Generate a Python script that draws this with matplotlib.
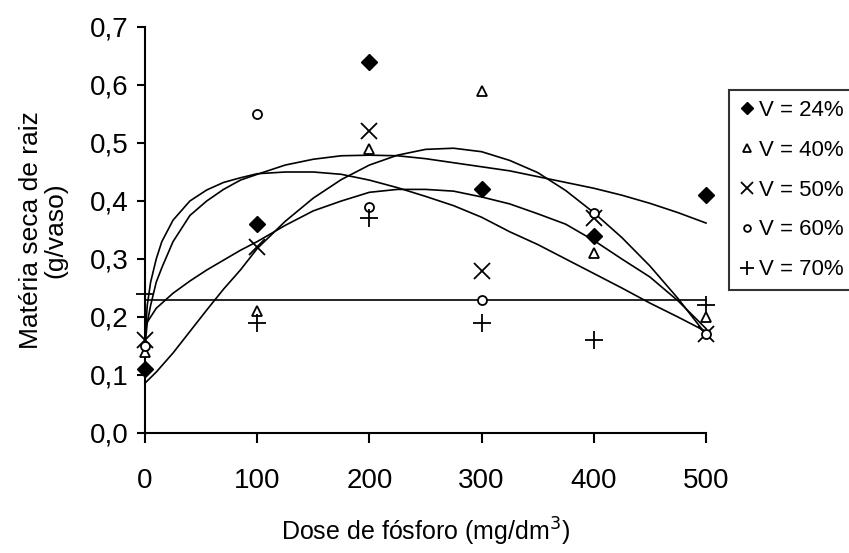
import matplotlib
matplotlib.use("Agg")
import matplotlib.pyplot as plt

plt.rcParams['font.family'] = ['Liberation Sans', 'DejaVu Sans']

# observed means
dose = [0, 100, 200, 300, 400, 500]
v24 = [0.11, 0.36, 0.64, 0.42, 0.34, 0.41]
v40 = [0.14, 0.21, 0.49, 0.59, 0.31, 0.20]
v50 = [0.16, 0.32, 0.52, 0.28, 0.37, 0.17]
v60 = [0.15, 0.55, 0.39, 0.23, 0.38, 0.17]
v70 = [0.24, 0.19, 0.37, 0.19, 0.16, 0.22]

# fitted curves
fit_x_a = [0, 2, 5, 10, 15, 25, 40, 55, 70, 85, 100, 125, 150, 175, 200,
           225, 250, 275, 300, 325, 350, 375, 400, 425, 450, 475, 500]
fit_v24 = [0.15, 0.19, 0.22, 0.26, 0.285, 0.33, 0.375, 0.40, 0.42, 0.436,
           0.446, 0.462, 0.472, 0.478, 0.479, 0.478, 0.473, 0.466, 0.459,
           0.452, 0.442, 0.432, 0.422, 0.41, 0.396, 0.38, 0.362]
fit_v60 = [0.16, 0.22, 0.26, 0.30, 0.33, 0.367, 0.40, 0.419, 0.432, 0.44,
           0.447, 0.45, 0.45, 0.446, 0.436, 0.423, 0.408, 0.392, 0.372,
           0.347, 0.325, 0.30, 0.275, 0.25, 0.224, 0.20, 0.175]

fit_x_b = [0, 10, 25, 40, 55, 70, 85, 100, 125, 150, 175, 200, 225, 250,
           275, 300, 325, 350, 375, 400, 425, 450, 475, 500]
fit_v40 = [0.086, 0.105, 0.138, 0.175, 0.212, 0.248, 0.281, 0.318, 0.365,
           0.405, 0.437, 0.462, 0.479, 0.489, 0.491, 0.485, 0.47, 0.449,
           0.418, 0.38, 0.337, 0.288, 0.232, 0.17]
fit_v50 = [0.185, 0.215, 0.241, 0.262, 0.281, 0.298, 0.315, 0.33, 0.358,
           0.383, 0.40, 0.415, 0.42, 0.42, 0.417, 0.407, 0.395, 0.378, 0.36,
           0.332, 0.30, 0.269, 0.228, 0.18]

fit_x_c = [0, 500]
fit_v70 = [0.23, 0.23]

xticks = [0, 100, 200, 300, 400, 500]
yticks = [0.0, 0.1, 0.2, 0.3, 0.4, 0.5, 0.6, 0.7]
ytick_labels = ['0,0', '0,1', '0,2', '0,3', '0,4', '0,5', '0,6', '0,7']


fig = plt.figure(figsize=(8.49, 5.53), dpi=100)
ax = fig.add_axes([145 / 849, 120 / 553, 561 / 849, 406 / 553])

for fx, fy in [(fit_x_a, fit_v24), (fit_x_a, fit_v60), (fit_x_b, fit_v40),
               (fit_x_b, fit_v50), (fit_x_c, fit_v70)]:
    ax.plot(fx, fy, color='black', lw=1.2, clip_on=False, zorder=2)

ax.plot(dose, v24, ls='none', marker='D', ms=8, mfc='black', mec='black',
        label='V = 24%', clip_on=False, zorder=3)
ax.plot(dose, v40, ls='none', marker='^', ms=7.5, mfc='white', mec='black',
        mew=1.3, label='V = 40%', clip_on=False, zorder=3)
ax.plot(dose, v50, ls='none', marker='x', ms=12, mec='black', mew=1.3,
        label='V = 50%', clip_on=False, zorder=3)
ax.plot(dose, v60, ls='none', marker='o', ms=6.5, mfc='white', mec='black',
        mew=1.3, label='V = 60%', clip_on=False, zorder=3)
ax.plot(dose, v70, ls='none', marker='+', ms=13, mec='black', mew=1.3,
        label='V = 70%', clip_on=False, zorder=3)

ax.set_xlim(0, 500)
ax.set_ylim(0, 0.7)
ax.set_xticks(xticks)
ax.set_yticks(yticks)
ax.set_yticklabels(ytick_labels)
ax.spines['top'].set_visible(False)
ax.spines['right'].set_visible(False)
for s in ['left', 'bottom']:
    ax.spines[s].set_linewidth(1.5)
ax.tick_params(axis='x', direction='out', length=7, width=1.5,
               labelsize=20, pad=18)
ax.tick_params(axis='y', direction='out', length=6, width=1.5,
               labelsize=20, pad=6)

ax.set_xlabel('Dose de fósforo (mg/dm$^3$)', fontsize=18, labelpad=16)
ax.set_ylabel('Matéria seca de raiz\n(g/vaso)', fontsize=19, labelpad=16,
              linespacing=1.0)

leg = ax.legend(loc='center left', bbox_to_anchor=(729 / 849, 1 - 190 / 553),
                bbox_transform=fig.transFigure, fontsize=16, frameon=True,
                fancybox=False, edgecolor='black', handlelength=0.7,
                handletextpad=0.2, borderpad=0.45, labelspacing=0.85,
                borderaxespad=0, markerscale=0.75)
leg.get_frame().set_linewidth(1.5)

fig.savefig('out.png', dpi=100)
